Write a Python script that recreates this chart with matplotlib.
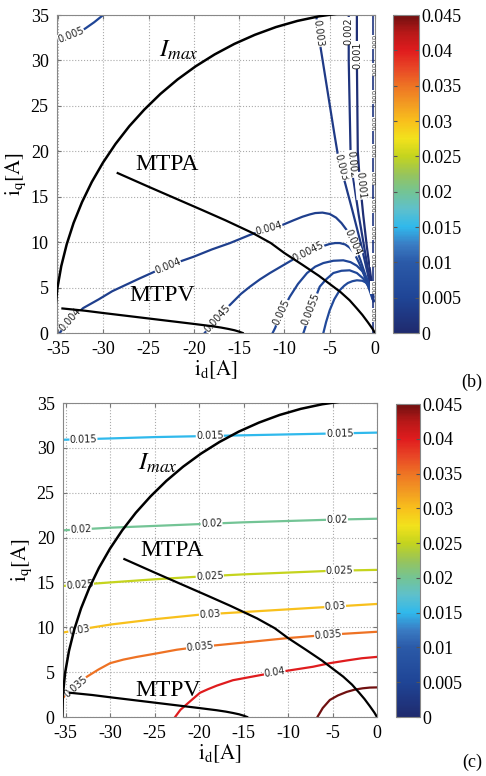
import numpy as np
import matplotlib
matplotlib.use("Agg")
import matplotlib.pyplot as plt
from matplotlib.colors import LinearSegmentedColormap, Normalize
from matplotlib.cm import ScalarMappable

plt.rcParams['font.family'] = ['Liberation Serif', 'DejaVu Serif']
plt.rcParams['mathtext.fontset'] = 'stix'
plt.rcParams['axes.unicode_minus'] = False

# colormap (value, colour)
cmap_vals = [0.0, 0.005, 0.010, 0.0125, 0.015, 0.0175, 0.020, 0.0225, 0.025,
             0.0275, 0.030, 0.0325, 0.035, 0.0375, 0.040, 0.0425, 0.045]
cmap_cols = ['#1f2a6e', '#1f4596', '#2b5aa8', '#3a7cc4', '#30b9ec', '#5ec0cc',
             '#74c494', '#98c45a', '#c4d41e', '#f2e21c', '#f8c01c', '#f29a22',
             '#ee7424', '#e84626', '#e01c1e', '#b81818', '#701010']

# limit curves (shared by both panels)
imax_x = [-35.4, -35.31, -35.06, -34.63, -34.03, -33.27, -32.34, -31.26, -30.02, -28.64, -27.12, -25.46,
          -23.69, -21.8, -19.8, -17.7, -15.52, -13.26, -10.94, -8.56, -6.15, -3.7, -1.24, 0.0]
imax_y = [0.0, 2.47, 4.93, 7.36, 9.76, 12.11, 14.4, 16.62, 18.76, 20.81, 22.76, 24.59,
          26.31, 27.9, 29.35, 30.66, 31.82, 32.82, 33.67, 34.35, 34.86, 35.21, 35.38, 35.4]
mtpa_x = [-28.4, -25.0, -22.0, -19.0, -16.5, -13.5, -11.5, -10.0, -8.0, -6.2, -5.0, -3.8, -2.8, -2.0, -1.4, -0.8, -0.3, 0.0]
mtpa_y = [17.6, 16.1, 14.8, 13.5, 12.4, 11.0, 9.9, 8.8, 7.5, 6.3, 5.4, 4.5, 3.6, 2.7, 2.0, 1.2, 0.5, 0.0]
mtpv_x = [-34.5, -32.0, -30.0, -27.5, -25.0, -22.5, -20.0, -18.0, -17.0, -16.2, -15.5, -15.0, -14.6]
mtpv_y = [2.7, 2.45, 2.2, 1.9, 1.6, 1.3, 1.0, 0.75, 0.6, 0.45, 0.3, 0.15, 0.0]

# panel (b) contour lines: (level, x, y)
b_lines = [
    (0.005, [-35.0, -33.5, -32.0, -31.0, -30.0], [32.2, 32.8, 33.5, 34.2, 35.0]),
    (0.003, [-6.5, -6.1, -5.3, -4.5, -4.0, -3.3, -2.5, -1.6, -0.8, -0.2],
            [35.0, 32.0, 27.0, 22.0, 19.0, 16.5, 13.5, 10.0, 6.5, 3.5]),
    (0.002, [-2.9, -2.9, -2.8, -2.7, -2.4, -1.8, -1.2, -0.6, -0.2],
            [35.0, 30.0, 25.0, 20.0, 17.0, 13.0, 9.5, 6.0, 4.0]),
    (0.001, [-2.0, -2.0, -1.95, -1.9, -1.7, -1.3, -0.9, -0.5, -0.2],
            [35.0, 30.0, 25.0, 20.0, 17.0, 13.0, 9.5, 6.5, 4.5]),
    (0.004, [-34.8, -34.2, -33.5, -32.2, -30.5, -29.0, -27.5, -26.0, -24.0, -22.0, -20.0, -18.0, -16.0, -13.8,
             -12.0, -10.2, -9.0, -8.0, -7.2, -6.6, -5.8, -5.0, -4.3, -3.7, -3.1, -2.6, -2.1, -1.6, -1.0, -0.5, -0.1],
            [0.0, 0.8, 1.6, 2.75, 3.7, 4.6, 5.3, 6.0, 6.9, 7.7, 8.4, 9.2, 9.9, 10.8,
             11.4, 11.9, 12.4, 12.8, 13.05, 13.2, 13.25, 13.1, 12.7, 12.1, 11.3, 10.4, 9.3, 8.0, 6.2, 4.8, 3.5]),
    (0.0045, [-18.8, -18.3, -17.8, -16.8, -15.7, -14.8, -13.8, -12.7, -11.6, -10.4, -9.2, -8.2, -7.2,
              -6.1, -5.0, -4.4, -3.9, -3.3, -2.8, -2.3, -1.8, -1.4, -1.0, -0.6, -0.3],
             [0.0, 0.6, 1.2, 2.3, 3.4, 4.3, 5.1, 5.9, 6.6, 7.3, 8.0, 8.5, 9.0,
              9.45, 9.8, 9.9, 9.9, 9.75, 9.4, 8.8, 7.8, 6.9, 5.8, 4.7, 3.8]),
    (0.005, [-11.3, -11.0, -10.8, -10.2, -9.4, -8.5, -7.5, -6.6, -5.7, -4.6, -3.5, -2.7, -2.0, -1.4, -0.9, -0.5, -0.2],
            [0.0, 0.6, 1.2, 2.5, 4.0, 5.4, 6.6, 7.3, 7.7, 7.95, 8.0, 7.8, 7.4, 6.8, 6.0, 5.0, 4.0]),
    (0.0055, [-7.9, -7.7, -7.5, -7.1, -6.6, -6.1, -5.4, -4.6, -3.7, -2.8, -2.0, -1.3, -0.7, -0.2],
             [0.0, 0.6, 1.2, 2.5, 3.8, 5.1, 5.9, 6.6, 6.85, 6.9, 6.6, 6.0, 5.1, 4.0]),
    (0.006, [-5.7, -5.4, -5.0, -4.5, -3.9, -3.4, -3.0, -2.5, -2.0, -1.4, -0.9, -0.5, -0.2],
            [0.0, 1.2, 2.5, 3.7, 4.7, 5.2, 5.5, 5.7, 5.8, 5.75, 5.5, 5.0, 4.2]),
]
# (line index, text, x, y)
b_labels = [
    (0, "0.005", -33.6, 32.9),
    (1, "0.003", -6.2, 33.0), (1, "0.003", -3.9, 18.2),
    (2, "0.002", -2.9, 33.2), (2, "0.002", -2.6, 18.6),
    (3, "0.001", -2.0, 30.6), (3, "0.001", -1.7, 16.2),
    (4, "0.004", -33.4, 1.3), (4, "0.004", -22.9, 7.4), (4, "0.004", -11.8, 11.8), (4, "0.004", -2.6, 9.9),
    (5, "0.0045", -17.4, 1.6), (5, "0.0045", -7.4, 9.0),
    (6, "0.005", -10.4, 2.3),
    (7, "0.0055", -7.1, 2.6),
]
# crowded labels stacked on the right edge of panel (b)
b_edge_y = [2, 5, 8, 11, 14, 17, 20, 23, 26, 29, 32]

# panel (c) contour lines
c_x = [-35.4, -30.0, -25.0, -20.0, -15.0, -10.0, -5.0, 0.0]
c_lines = [
    (0.015, c_x, [30.9, 31.05, 31.2, 31.3, 31.4, 31.5, 31.6, 31.7]),
    (0.020, c_x, [20.8, 21.1, 21.3, 21.5, 21.7, 21.85, 22.0, 22.1]),
    (0.025, c_x, [14.6, 15.0, 15.35, 15.65, 15.9, 16.1, 16.3, 16.4]),
    (0.030, [-35.4, -32.5, -30.0, -27.5, -25.0, -20.0, -15.0, -10.0, -5.0, 0.0],
            [9.4, 9.9, 10.3, 10.6, 10.9, 11.4, 11.7, 12.0, 12.3, 12.6]),
    (0.035, [-35.4, -34.8, -34.0, -33.3, -32.6, -31.3, -30.0, -28.5, -27.0, -24.7, -22.5, -20.2,
             -17.5, -15.0, -12.5, -10.0, -7.5, -5.0, -2.5, 0.0],
            [2.0, 2.7, 3.3, 3.9, 4.5, 5.3, 6.0, 6.4, 6.7, 7.1, 7.5, 7.8,
             8.05, 8.3, 8.55, 8.8, 9.0, 9.2, 9.35, 9.5]),
    (0.040, [-22.7, -22.1, -21.3, -20.6, -19.9, -19.0, -18.0, -17.1, -16.2, -14.3, -12.4, -9.8, -7.2, -5.3, -3.4, -1.7, 0.0],
            [0.0, 0.8, 1.5, 2.1, 2.7, 3.1, 3.5, 3.8, 4.1, 4.45, 4.8, 5.2, 5.6, 6.0, 6.3, 6.55, 6.7]),
    (0.045, [-6.7, -6.1, -5.3, -4.4, -3.4, -2.5, -1.6, -0.8, 0.0],
            [0.0, 1.0, 1.9, 2.4, 2.8, 3.05, 3.2, 3.28, 3.3]),
]
c_labels = [
    (0, "0.015", -33.0), (0, "0.015", -18.8), (0, "0.015", -4.2),
    (1, "0.02", -33.3), (1, "0.02", -18.6), (1, "0.02", -4.5),
    (2, "0.025", -33.4), (2, "0.025", -18.8), (2, "0.025", -4.2),
    (3, "0.03", -33.5), (3, "0.03", -18.8), (3, "0.03", -4.7),
    (4, "0.035", -33.9), (4, "0.035", -19.9), (4, "0.035", -5.5),
    (5, "0.04", -11.5),
]

cb_ticks = [0, 0.005, 0.01, 0.015, 0.02, 0.025, 0.03, 0.035, 0.04, 0.045]
ticks_x = [-35, -30, -25, -20, -15, -10, -5, 0]
ticks_y = [0, 5, 10, 15, 20, 25, 30, 35]

cmap = LinearSegmentedColormap.from_list(
    "fw", [(v / 0.045, c) for v, c in zip(cmap_vals, cmap_cols)], N=256)
norm = Normalize(0, 0.045)


def label_on_line(ax, xs, ys, x, y, txt):
    # snap label to nearest point of the line and align with it
    pts = ax.transData.transform(np.column_stack([xs, ys]))
    p = ax.transData.transform((x, y))
    best = None
    for i in range(len(pts) - 1):
        a, b = pts[i], pts[i + 1]
        d = b - a
        t = np.clip(np.dot(p - a, d) / max(np.dot(d, d), 1e-9), 0, 1)
        q = a + t * d
        dist = np.hypot(*(p - q))
        if best is None or dist < best[0]:
            best = (dist, q, d)
    _, q, d = best
    ang = np.degrees(np.arctan2(d[1], d[0]))
    if ang > 90:
        ang -= 180
    elif ang <= -90:
        ang += 180
    qx, qy = ax.transData.inverted().transform(q)
    ax.text(qx, qy, txt, rotation=ang, rotation_mode='anchor', ha='center', va='center',
            fontsize=7, family='DejaVu Sans', color='#222222', zorder=3,
            bbox=dict(fc='white', ec='none', pad=0.15))


def setup_axes(ax, xmin):
    ax.set_xlim(xmin, 0)
    ax.set_ylim(0, 35)
    ax.set_xticks(ticks_x)
    ax.set_yticks(ticks_y)
    ax.tick_params(direction='in', top=True, right=True, length=3, labelsize=13,
                   color='#777777')
    ax.tick_params(axis='x', pad=6)
    ax.tick_params(axis='y', pad=6)
    ax.grid(True, linestyle=':', color='#aaaaaa', linewidth=0.8)
    for s in ax.spines.values():
        s.set_color('#888888')
    ax.set_xlabel(r'$\mathrm{i_d[A]}$', fontsize=15, labelpad=0)
    ax.set_ylabel(r'$\mathrm{i_q[A]}$', fontsize=15, labelpad=2)


def draw_limits(ax, y_mtpv_txt):
    ax.plot(imax_x, imax_y, color='black', lw=1.8, zorder=4)
    ax.plot(mtpa_x, mtpa_y, color='black', lw=1.6, zorder=4)
    ax.plot(mtpv_x, mtpv_y, color='black', lw=1.6, zorder=4)
    ax.text(-23.0, 18.6, 'MTPA', fontsize=17, ha='center', va='center', zorder=5)
    ax.text(-23.5, y_mtpv_txt, 'MTPV', fontsize=17, ha='center', va='center', zorder=5)


def add_colorbar(cax):
    sm = ScalarMappable(norm=norm, cmap=cmap)
    cb = fig.colorbar(sm, cax=cax, ticks=cb_ticks)
    cb.ax.set_yticklabels(['%g' % t for t in cb_ticks])
    cb.ax.tick_params(direction='in', left=True, right=True, length=3, labelsize=13,
                      color='#555555', pad=2)
    cb.outline.set_edgecolor('#888888')


fig = plt.figure(figsize=(4.86, 7.76), dpi=100)
ax1 = fig.add_axes([57 / 486, 1 - 333 / 776, 318 / 486, 318 / 776])
cax1 = fig.add_axes([393 / 486, 1 - 333 / 776, 26 / 486, 318 / 776])
ax2 = fig.add_axes([63 / 486, 1 - 717 / 776, 314 / 486, 314 / 776])
cax2 = fig.add_axes([396 / 486, 1 - 717 / 776, 24 / 486, 313 / 776])

# ---- panel (b)
setup_axes(ax1, -35.1)
for lvl, xs, ys in b_lines:
    ax1.plot(xs, ys, color=cmap(norm(lvl)), lw=1.6, zorder=2)
for i, txt, x, y in b_labels:
    label_on_line(ax1, b_lines[i][1], b_lines[i][2], x, y, txt)
ax1.plot([-0.25, -0.25], [0, 35], color='#1f3580', lw=1.2, zorder=2)
for yy in b_edge_y:
    ax1.text(-0.3, yy, '0.00', rotation=-90, fontsize=4.5, family='DejaVu Sans',
             ha='center', va='center', color='#333333', zorder=3,
             bbox=dict(fc='white', ec='none', pad=0.05))
draw_limits(ax1, 4.1)
ax1.text(-21.7, 31.1, r'$I_{max}$', fontsize=18, ha='center', va='center', zorder=5)
add_colorbar(cax1)
fig.text(472 / 486, 1 - 382 / 776, '(b)', fontsize=13, ha='center', va='center')

# ---- panel (c)
setup_axes(ax2, -35.3)
for lvl, xs, ys in c_lines:
    ax2.plot(xs, ys, color=cmap(norm(lvl)), lw=1.6, zorder=2)
for i, txt, x in c_labels:
    xs, ys = c_lines[i][1], c_lines[i][2]
    label_on_line(ax2, xs, ys, x, np.interp(x, xs, ys), txt)
draw_limits(ax2, 2.9)
ax2.text(-24.6, 28.3, r'$I_{max}$', fontsize=18, ha='center', va='center', zorder=5)
add_colorbar(cax2)
fig.text(472 / 486, 1 - 762 / 776, '(c)', fontsize=13, ha='center', va='center')

fig.savefig('out.png', dpi=100)
